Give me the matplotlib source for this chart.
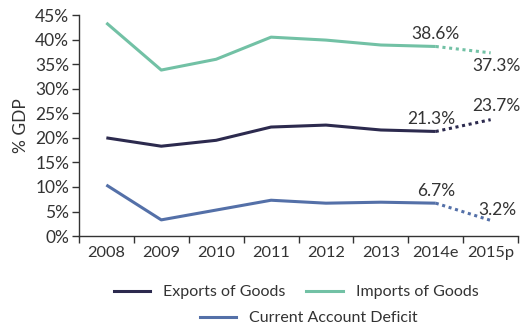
import matplotlib
matplotlib.use("Agg")
import matplotlib.pyplot as plt
from matplotlib.lines import Line2D

years = ["2008", "2009", "2010", "2011", "2012", "2013", "2014e", "2015p"]
exports = [20.0, 18.3, 19.5, 22.2, 22.6, 21.6, 21.3, 23.7]
imports = [43.4, 33.8, 36.0, 40.5, 39.9, 38.9, 38.6, 37.3]
deficit = [10.4, 3.3, 5.3, 7.3, 6.7, 6.9, 6.7, 3.2]
yticks = [0, 5, 10, 15, 20, 25, 30, 35, 40, 45]

plt.rcParams["font.family"] = "Lato"

c_exp = "#2c2a4e"
c_imp = "#72c1a5"
c_def = "#5470a8"
txt = "#333333"
fs = 12.5

fig = plt.figure(figsize=(5.26, 3.27), dpi=100)
ax = fig.add_axes([0.150, 0.278, 0.835, 0.676])

x = list(range(len(years)))
for vals, col in [(imports, c_imp), (exports, c_exp), (deficit, c_def)]:
    ax.plot(x[:7], vals[:7], color=col, lw=2.2, solid_capstyle="butt")
    ax.plot(x[6:], vals[6:], color=col, lw=2.2, linestyle=(0, (1, 1.2)))

ax.set_xlim(-0.5, 7.5)
ax.set_ylim(0, 45)
ax.set_yticks(yticks)
ax.set_yticklabels([f"{v}%" for v in yticks])
ax.set_xticks(x)
ax.set_xticklabels(years)
ax.set_xticks([i - 0.5 for i in range(len(years) + 1)], minor=True)
ax.tick_params(axis="x", which="major", length=0, pad=7, labelsize=11.8, colors=txt)
ax.tick_params(axis="x", which="minor", length=5, width=1, color=txt)
ax.tick_params(axis="y", length=5, width=1, color=txt, labelsize=fs, labelcolor=txt, pad=2)
for s in ["top", "right"]:
    ax.spines[s].set_visible(False)
for s in ["left", "bottom"]:
    ax.spines[s].set_color(txt)
    ax.spines[s].set_linewidth(1)
ax.set_ylabel("% GDP", fontsize=fs, color=txt, labelpad=4)

ax.annotate(f"{imports[6]}%", (6, imports[6]), xytext=(0, 3), textcoords="offset points",
            ha="center", va="bottom", fontsize=fs, color=txt)
ax.annotate(f"{imports[7]}%", (7, imports[7]), xytext=(4, -4), textcoords="offset points",
            ha="center", va="top", fontsize=fs, color=txt)
ax.annotate(f"{exports[6]}%", (6, exports[6]), xytext=(-3, 3), textcoords="offset points",
            ha="center", va="bottom", fontsize=fs, color=txt)
ax.annotate(f"{exports[7]}%", (7, exports[7]), xytext=(4, 4), textcoords="offset points",
            ha="center", va="bottom", fontsize=fs, color=txt)
ax.annotate(f"{deficit[6]}%", (6, deficit[6]), xytext=(0, 3), textcoords="offset points",
            ha="center", va="bottom", fontsize=fs, color=txt)
ax.annotate(f"{deficit[7]}%", (7, deficit[7]), xytext=(5, 2), textcoords="offset points",
            ha="center", va="bottom", fontsize=fs, color=txt)

h_exp = Line2D([], [], color=c_exp, lw=2.2)
h_imp = Line2D([], [], color=c_imp, lw=2.2)
h_def = Line2D([], [], color=c_def, lw=2.2)
leg_kw = dict(frameon=False, fontsize=11.5, handlelength=2.3, handletextpad=0.8,
              columnspacing=1.3, labelcolor=txt, borderaxespad=0)
fig.legend([h_exp, h_imp], ["Exports of Goods", "Imports of Goods"], ncol=2,
           loc="center", bbox_to_anchor=(0.563, 1 - 292 / 327), **leg_kw)
fig.legend([h_def], ["Current Account Deficit"], ncol=1,
           loc="center", bbox_to_anchor=(0.587, 1 - 318 / 327), **leg_kw)

fig.savefig("out.png", dpi=100)
